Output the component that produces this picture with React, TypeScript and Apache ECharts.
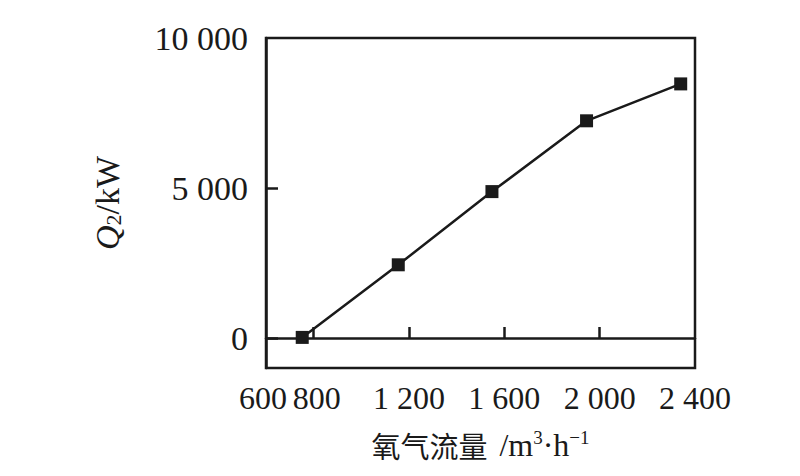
import React, { useEffect, useRef } from "react";
import * as echarts from "echarts";

const oxygenFlow = [752, 1155, 1548, 1945, 2340];
const q2Values = [20, 2440, 4880, 7240, 8470];
const xTickValues = [800, 1200, 1600, 2000];
const xLabelValues = [600, 800, 1200, 1600, 2000, 2400];
const yTickValues = [0, 5000];
const yLabelValues = [0, 5000, 10000];

const fmt = (v: number) => {
  const s = String(v);
  if (s.length <= 3) return s;
  return s.slice(0, s.length - 3) + " " + s.slice(s.length - 3);
};

export default function App() {
  const ref = useRef<HTMLDivElement>(null);
  useEffect(() => {
    if (!ref.current) return;
    const chart = echarts.init(ref.current, undefined, { renderer: "svg" });
    const serif = "Liberation Serif";
    const dark = "#1a1a1a";
    chart.setOption({
      animation: false,
      backgroundColor: "#ffffff",
      grid: {
        left: 258,
        right: 97,
        top: 30,
        bottom: 100,
        containLabel: false,
        outerBoundsMode: "none",
        show: true,
        borderColor: dark,
        borderWidth: 2.5,
        backgroundColor: "transparent",
      },
      xAxis: {
        type: "value",
        min: 600,
        max: 2400,
        splitLine: { show: false },
        axisLine: { show: true, lineStyle: { color: dark, width: 2.5 } },
        axisTick: {
          show: true,
          inside: true,
          length: 11,
          customValues: xTickValues,
          lineStyle: { color: dark, width: 2.5 },
        },
        axisLabel: {
          customValues: xLabelValues,
          hideOverlap: false,
          showMinLabel: true,
          showMaxLabel: true,
          formatter: (v: number) => {
            if (v === 600) return "{l|" + fmt(v) + "}";
            if (v === 800) return "{r|" + fmt(v) + "}";
            return "{d|" + fmt(v) + "}";
          },
          rich: {
            l: { fontFamily: serif, fontSize: 32, color: dark, padding: [0, 6, 0, 0] },
            r: { fontFamily: serif, fontSize: 32, color: dark, padding: [0, 0, 0, 6] },
            d: { fontFamily: serif, fontSize: 32, color: dark },
          },
          fontFamily: serif,
          fontSize: 32,
          color: dark,
          margin: 14,
        },
        name: "{zh|氧气流量}{u1|/m}{sup|3}{u|·h}{sup|−1}",
        nameLocation: "middle",
        nameGap: 60,
        nameTextStyle: {
          rich: {
            zh: { fontFamily: "Noto Sans CJK SC", fontSize: 29, color: dark, lineHeight: 34 },
            u1: { fontFamily: serif, fontSize: 32, color: dark, padding: [0, 0, 0, 12], lineHeight: 34 },
            u: { fontFamily: serif, fontSize: 32, color: dark, lineHeight: 34 },
            sup: { fontFamily: serif, fontSize: 19, color: dark, verticalAlign: "top", lineHeight: 20, padding: [0, 0, 0, 0] },
          },
        },
      },
      yAxis: {
        type: "value",
        min: -1000,
        max: 10000,
        splitLine: { show: false },
        axisLine: { show: true, lineStyle: { color: dark, width: 2.5 } },
        axisTick: {
          show: true,
          inside: true,
          length: 12,
          customValues: yTickValues,
          lineStyle: { color: dark, width: 2.5 },
        },
        axisLabel: {
          customValues: yLabelValues,
          formatter: (v: number) => fmt(v),
          fontFamily: serif,
          fontSize: 34,
          color: dark,
          margin: 18,
        },
        name: "{q|Q}{s|2}{n|/kW}",
        nameLocation: "middle",
        nameGap: 142,
        nameTextStyle: {
          rich: {
            q: { fontFamily: serif, fontStyle: "italic", fontSize: 34, color: dark },
            s: { fontFamily: serif, fontSize: 22, color: dark, padding: [12, 0, 0, 0] },
            n: { fontFamily: serif, fontSize: 34, color: dark },
          },
        },
      },
      series: [
        {
          type: "line",
          data: oxygenFlow.map((x, i) => [x, q2Values[i]]),
          symbol: "rect",
          symbolSize: 13,
          itemStyle: { color: dark },
          lineStyle: { color: dark, width: 2.5 },
        },
      ],
    });
    return () => chart.dispose();
  }, []);
  return <div ref={ref} style={{ width: 784, height: 460 }} />;
}
